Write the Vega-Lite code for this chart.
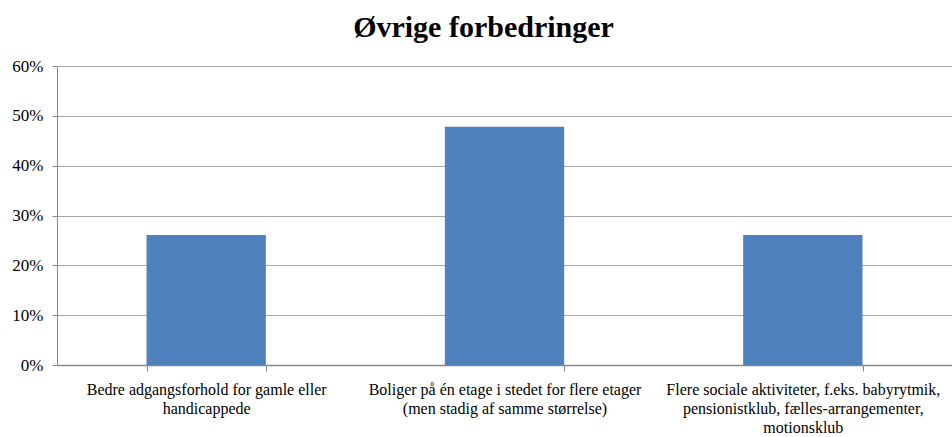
{
  "$schema": "https://vega.github.io/schema/vega-lite/v6.json",
  "width": 895,
  "height": 299,
  "autosize": {"type": "none"},
  "padding": {"left": 57, "top": 66, "right": 0, "bottom": 72},
  "background": "white",
  "title": {
    "text": "Øvrige forbedringer",
    "font": "Liberation Serif",
    "fontSize": 30,
    "fontWeight": "bold",
    "color": "black",
    "anchor": "middle",
    "dx": -21,
    "offset": 14
  },
  "data": {
    "values": [
      {"kategori": "Bedre adgangsforhold for gamle eller|handicappede", "andel": 0.261},
      {"kategori": "Boliger på én etage i stedet for flere etager|(men stadig af samme størrelse)", "andel": 0.478},
      {"kategori": "Flere sociale aktiviteter, f.eks. babyrytmik,|pensionistklub, fælles-arrangementer,|motionsklub", "andel": 0.261}
    ]
  },
  "mark": {"type": "bar", "color": "#4F81BD"},
  "encoding": {
    "x": {
      "field": "kategori",
      "type": "nominal",
      "sort": null,
      "scale": {"paddingInner": 0.6, "paddingOuter": 0.3},
      "axis": {
        "title": null,
        "labelAngle": 0,
        "labelExpr": "split(datum.label, '|')",
        "labelLineHeight": 19,
        "labelLimit": 0,
        "labelOverlap": false,
        "labelPadding": 10,
        "labelFontSize": 16,
        "tickBand": "extent",
        "tickSize": 6,
        "tickColor": "#888888",
        "domainColor": "#888888",
        "domainWidth": 1.5
      }
    },
    "y": {
      "field": "andel",
      "type": "quantitative",
      "scale": {"domain": [0, 0.6]},
      "axis": {
        "title": null,
        "values": [0, 0.1, 0.2, 0.3, 0.4, 0.5, 0.6],
        "format": ".0%",
        "labelFontSize": 17,
        "labelPadding": 9,
        "tickSize": 5,
        "tickColor": "#888888",
        "domainColor": "#888888",
        "gridColor": "#a6a6a6",
        "grid": true
      }
    }
  },
  "config": {
    "view": {"stroke": null},
    "axis": {"labelFont": "Liberation Serif", "labelColor": "black"}
  }
}
